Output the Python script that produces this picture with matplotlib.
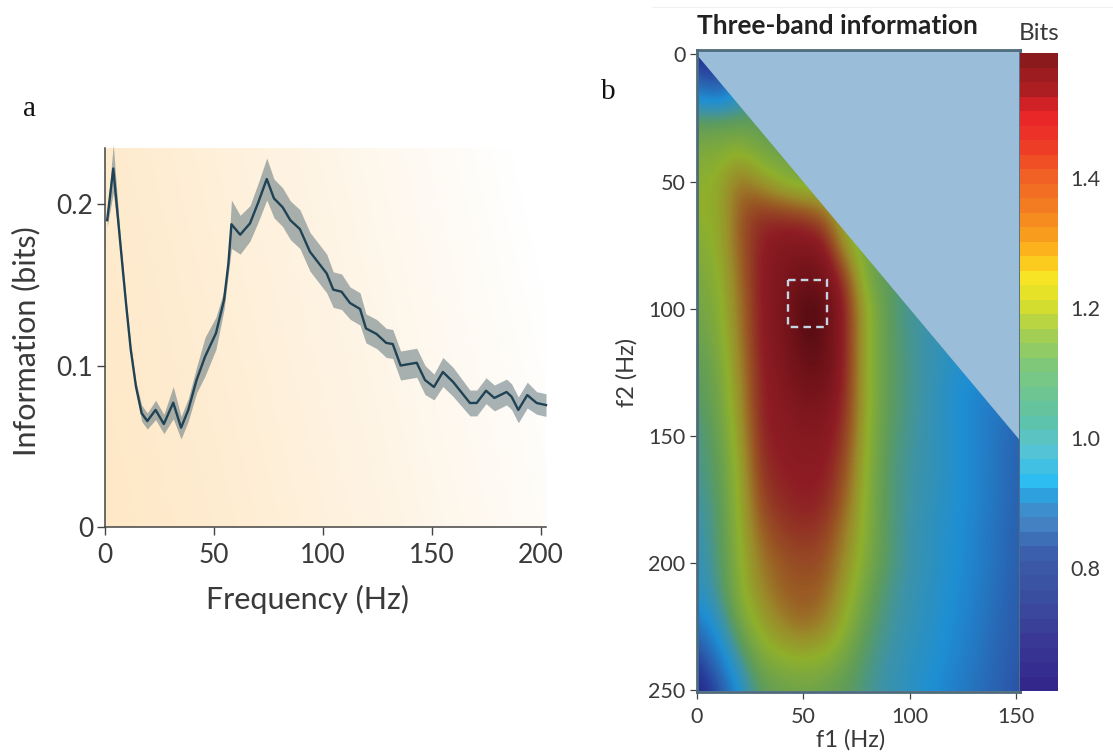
import numpy as np
import matplotlib
matplotlib.use("Agg")
import matplotlib.pyplot as plt
from matplotlib.colors import LinearSegmentedColormap, Normalize
from matplotlib.cm import ScalarMappable
from matplotlib.patches import Rectangle, Polygon
from matplotlib.lines import Line2D

# ---- Panel a data
freq = [1, 3.8, 7, 9.6, 11.8, 14.2, 16.8, 19.4, 23.2, 27, 31.3, 34.9, 38.2, 42, 45.9, 50.9, 54.6, 56.6, 58,
        62, 66.5, 70.3, 74.2, 77.5, 81.5, 85, 89.4, 94, 99.4, 101.7, 104.7, 108.5, 112.4, 117, 119.7, 124.6,
        129, 132, 135.6, 143, 146.8, 150.9, 155, 159.7, 167.4, 170.5, 174.8, 178.6, 184.2, 186.5, 189.6,
        193.7, 198, 202.3]
info = [0.190, 0.222, 0.176, 0.139, 0.110, 0.087, 0.0705, 0.0656, 0.0725, 0.0638, 0.077, 0.0615, 0.0725, 0.091,
        0.1055, 0.120, 0.1405, 0.163, 0.1875, 0.181, 0.188, 0.201, 0.2155, 0.2035, 0.198, 0.190, 0.1845, 0.1705,
        0.161, 0.157, 0.147, 0.1457, 0.1387, 0.135, 0.123, 0.1195, 0.114, 0.1133, 0.100, 0.1017, 0.091, 0.0867,
        0.096, 0.0898, 0.0768, 0.0768, 0.0844, 0.0799, 0.0836, 0.0807, 0.0725, 0.0817, 0.0768, 0.0755]
err = [0.004, 0.015, 0.004, 0.003, 0.003, 0.003, 0.005, 0.005, 0.006, 0.006, 0.010, 0.007, 0.007, 0.008,
       0.012, 0.010, 0.006, 0.006, 0.015, 0.012, 0.011, 0.012, 0.013, 0.012, 0.012, 0.012, 0.012, 0.012,
       0.012, 0.012, 0.011, 0.011, 0.010, 0.010, 0.009, 0.009, 0.009, 0.009, 0.009, 0.009, 0.009, 0.008,
       0.009, 0.009, 0.008, 0.008, 0.008, 0.008, 0.008, 0.008, 0.008, 0.008, 0.007, 0.007]
a_xticks = [0, 50, 100, 150, 200]
a_yticks = [0, 0.1, 0.2]
a_ylabels = ["0", "0.1", "0.2"]

# ---- Panel b data: bits, rows = f2, columns = f1
f1_grid = [0, 10, 20, 30, 40, 50, 60, 70, 80, 90, 100, 110, 120, 130, 140, 150]
f2_grid = [0, 12.5, 25, 37.5, 50, 62.5, 75, 87.5, 100, 112.5, 125, 137.5, 150, 162.5, 175, 187.5, 200, 212.5,
           225, 237.5, 250]
bits = [
 [.62, .64, .80, .90, .95, 1.0, 1.05, 1.05, 1.05, 1.05, 1.0, 1.0, 1.0, 1.0, 1.0, 1.0],
 [.78, .68, .85, .95, 1.0, 1.05, 1.05, 1.05, 1.05, 1.05, 1.0, 1.0, 1.0, 1.0, 1.0, 1.0],
 [1.04, 1.05, 1.05, 1.05, 1.05, 1.05, 1.05, 1.05, 1.05, 1.05, 1.0, 1.0, 1.0, 1.0, 1.0, 1.0],
 [1.13, 1.13, 1.16, 1.10, 1.08, 1.08, 1.08, 1.08, 1.05, 1.05, 1.0, 1.0, 1.0, 1.0, 1.0, 1.0],
 [1.16, 1.18, 1.30, 1.22, 1.15, 1.10, 1.10, 1.10, 1.05, 1.05, 1.0, 1.0, 1.0, 1.0, 1.0, 1.0],
 [1.18, 1.17, 1.33, 1.39, 1.37, 1.36, 1.30, 1.15, 1.10, 1.05, 1.0, 1.0, 1.0, 1.0, 1.0, 1.0],
 [1.14, 1.17, 1.32, 1.42, 1.46, 1.46, 1.44, 1.20, 1.10, 1.05, 1.0, 1.0, 1.0, 1.0, 1.0, 1.0],
 [1.12, 1.15, 1.30, 1.43, 1.47, 1.52, 1.50, 1.36, 1.10, 1.05, 1.0, 1.0, 1.0, 1.0, 1.0, 1.0],
 [1.10, 1.14, 1.28, 1.43, 1.48, 1.58, 1.56, 1.40, 1.17, 1.05, .98, .98, .95, .95, .95, .95],
 [1.08, 1.12, 1.27, 1.43, 1.47, 1.56, 1.55, 1.40, 1.17, 1.05, 1.0, .95, .93, .93, .93, .93],
 [1.05, 1.10, 1.25, 1.42, 1.46, 1.53, 1.53, 1.40, 1.17, 1.05, 1.0, .96, .90, .88, .88, .88],
 [1.03, 1.09, 1.23, 1.42, 1.44, 1.48, 1.48, 1.39, 1.17, 1.05, 1.0, .95, .90, .85, .82, .80],
 [1.00, 1.07, 1.21, 1.41, 1.43, 1.45, 1.45, 1.37, 1.16, 1.04, .99, .95, .90, .86, .81, .76],
 [1.00, 1.05, 1.19, 1.39, 1.42, 1.43, 1.43, 1.34, 1.15, 1.03, .98, .95, .90, .86, .81, .76],
 [.97, 1.04, 1.18, 1.36, 1.40, 1.42, 1.41, 1.31, 1.14, 1.03, .98, .94, .90, .86, .81, .76],
 [.95, 1.03, 1.17, 1.32, 1.37, 1.39, 1.37, 1.27, 1.14, 1.03, .97, .93, .89, .85, .80, .75],
 [.93, 1.02, 1.16, 1.28, 1.33, 1.35, 1.34, 1.24, 1.12, 1.03, .97, .93, .89, .85, .80, .75],
 [.90, 1.00, 1.15, 1.25, 1.31, 1.33, 1.31, 1.20, 1.09, 1.00, .96, .92, .88, .84, .79, .74],
 [.80, .92, 1.10, 1.19, 1.26, 1.30, 1.26, 1.16, 1.05, .99, .95, .91, .87, .83, .78, .74],
 [.66, .82, 1.00, 1.13, 1.16, 1.17, 1.16, 1.10, 1.02, .97, .93, .90, .86, .82, .77, .73],
 [.62, .68, .90, 1.05, 1.08, 1.10, 1.08, 1.05, 1.00, .96, .92, .88, .84, .80, .76, .72],
]
b_xticks = [0, 50, 100, 150]
b_yticks = [0, 50, 100, 150, 200, 250]
cb_ticks = [0.8, 1.0, 1.2, 1.4]
cb_labels = ["0.8", "1.0", "1.2", "1.4"]
vmin, vmax = 0.611, 1.592

W, H = 1113, 753
TXT = "#3a3a3a"
fig = plt.figure(figsize=(W / 100, H / 100), dpi=100, facecolor="white")
plt.rcParams["font.family"] = ["Lato", "DejaVu Sans"]


def px_axes(x0, y0, x1, y1):
    return fig.add_axes([x0 / W, 1 - y1 / H, (x1 - x0) / W, (y1 - y0) / H])


# ---- Panel a
ax = px_axes(105, 148, 546, 527)
u, v = np.meshgrid(np.linspace(0, 1, 200), np.linspace(0, 1, 200))
t = np.clip((u + 0.2 * v) / 1.12, 0, 1)[..., None] ** 1.15
c0 = np.array([254, 232, 198]) / 255
c1 = np.array([255, 255, 255]) / 255
ax.imshow(c0 * (1 - t) + c1 * t, origin="lower", extent=(0, 1, 0, 1), transform=ax.transAxes,
          aspect="auto", zorder=0)
ax.set_xlim(0, 202.3)
ax.set_ylim(0, 0.2347)
f = np.array(freq)
m = np.array(info)
e = np.array(err)
ax.fill_between(f, m - e, m + e, color="#6F8288", alpha=0.6, lw=0, zorder=2, clip_on=False)
ax.plot(f, m, color="#1F4254", lw=1.7, zorder=3, clip_on=False)
ax.set_xticks(a_xticks)
ax.set_yticks(a_yticks)
ax.set_yticklabels(a_ylabels)
ax.tick_params(axis="both", length=5.5, width=1, color="#444444", labelsize=19, labelcolor=TXT, pad=3)
ax.tick_params(axis="x", pad=6)
for s in ("top", "right"):
    ax.spines[s].set_visible(False)
for s in ("left", "bottom"):
    ax.spines[s].set_color("#444444")
    ax.spines[s].set_linewidth(1.1)
fig.text(308 / W, 1 - 599 / H, "Frequency (Hz)", fontsize=22, color=TXT, ha="center", va="center")
fig.text(26 / W, 1 - 341 / H, "Information (bits)", fontsize=22, color=TXT, ha="center", va="center", rotation=90)
fig.text(30 / W, 1 - 109 / H, "a", fontsize=21, color="#111111", ha="center", va="center",
         family="Liberation Serif")
fig.text(608 / W, 1 - 92 / H, "b", fontsize=21, color="#111111", ha="center", va="center",
         family="Liberation Serif")

# ---- Panel b
img_cmap = LinearSegmentedColormap.from_list("img", [
    (0.00, "#241f8a"), (0.14, "#2b5fae"), (0.275, "#1e8fd4"), (0.367, "#3d93a8"), (0.449, "#5d9c5c"),
    (0.571, "#8fb02c"), (0.653, "#9b8b2a"), (0.724, "#9a5b25"), (0.826, "#8e1c24"), (0.928, "#6e1218"),
    (1.00, "#4a0a10")], N=256)
axb = px_axes(696.5, 50, 1019.5, 691.5)
axb.set_facecolor("#9ABDD9")
z = np.array(bits)
dx = f1_grid[1] - f1_grid[0]
dy = f2_grid[1] - f2_grid[0]
im = axb.imshow(z, cmap=img_cmap, vmin=vmin, vmax=vmax, aspect="auto", interpolation="bicubic",
                extent=(f1_grid[0] - dx / 2, f1_grid[-1] + dx / 2, f2_grid[-1] + dy / 2, f2_grid[0] - dy / 2))
axb.set_xlim(0, 151.5)
axb.set_ylim(250.4, -1.7)
tri = Polygon([(0, 0), (151.5, 151.5), (151.5, 250.4), (0, 250.4)], transform=axb.transData, fc="none", ec="none")
axb.add_patch(tri)
im.set_clip_path(tri)
axb.add_patch(Rectangle((42.7, 88.8), 18.3, 18.5, fill=False, ec="#C5D5E3", lw=1.7, ls=(0, (3.2, 2.2)), zorder=4))
axb.set_xticks(b_xticks)
axb.set_yticks(b_yticks)
axb.tick_params(axis="both", length=5, width=0.9, color="#444444", labelsize=15.5, labelcolor=TXT, pad=3)
axb.tick_params(axis="x", pad=6)
for s in axb.spines.values():
    s.set_color("#4F6B7B")
    s.set_linewidth(2)
fig.text(851 / W, 1 - 740 / H, "f1 (Hz)", fontsize=17, color=TXT, ha="center", va="center")
fig.text(627 / W, 1 - 372 / H, "f2 (Hz)", fontsize=17, color=TXT, ha="center", va="center", rotation=90)
fig.text(697 / W, 1 - 26 / H, "Three-band information", fontsize=19, fontweight="bold", color="#222222",
         ha="left", va="center")
fig.text(1039 / W, 1 - 34 / H, "Bits", fontsize=17.5, color=TXT, ha="center", va="center")
fig.add_artist(Line2D([652 / W, 1], [1 - 7 / H, 1 - 7 / H], color="#F2F2F2", lw=0.8))

# ---- Colour bar
cb_cmap = LinearSegmentedColormap.from_list("cb", [
    (0.00, "#33278c"), (0.08, "#3a3c96"), (0.143, "#3a4fa0"), (0.205, "#3b5caa"), (0.245, "#3d78bc"),
    (0.268, "#4a8cc8"), (0.29, "#2f8fd0"), (0.323, "#2cbdf2"), (0.378, "#58c4d2"), (0.425, "#5fc3a6"),
    (0.511, "#80c87a"), (0.566, "#a8cf4c"), (0.613, "#dce02a"), (0.649, "#f5e626"), (0.683, "#fdc21a"),
    (0.715, "#f9a01e"), (0.77, "#f37a22"), (0.824, "#f15a24"), (0.864, "#ee3a26"), (0.915, "#e8232a"),
    (0.95, "#b01e22"), (1.00, "#8a1a1c")], N=44)
cax = px_axes(1020, 53, 1058, 691)
cb = fig.colorbar(ScalarMappable(norm=Normalize(vmin, vmax), cmap=cb_cmap), cax=cax)
cb.set_ticks(cb_ticks)
cb.set_ticklabels(cb_labels)
cb.outline.set_visible(False)
cax.tick_params(length=0, labelsize=15.5, labelcolor=TXT, pad=9)

fig.savefig("out.png", dpi=100)
